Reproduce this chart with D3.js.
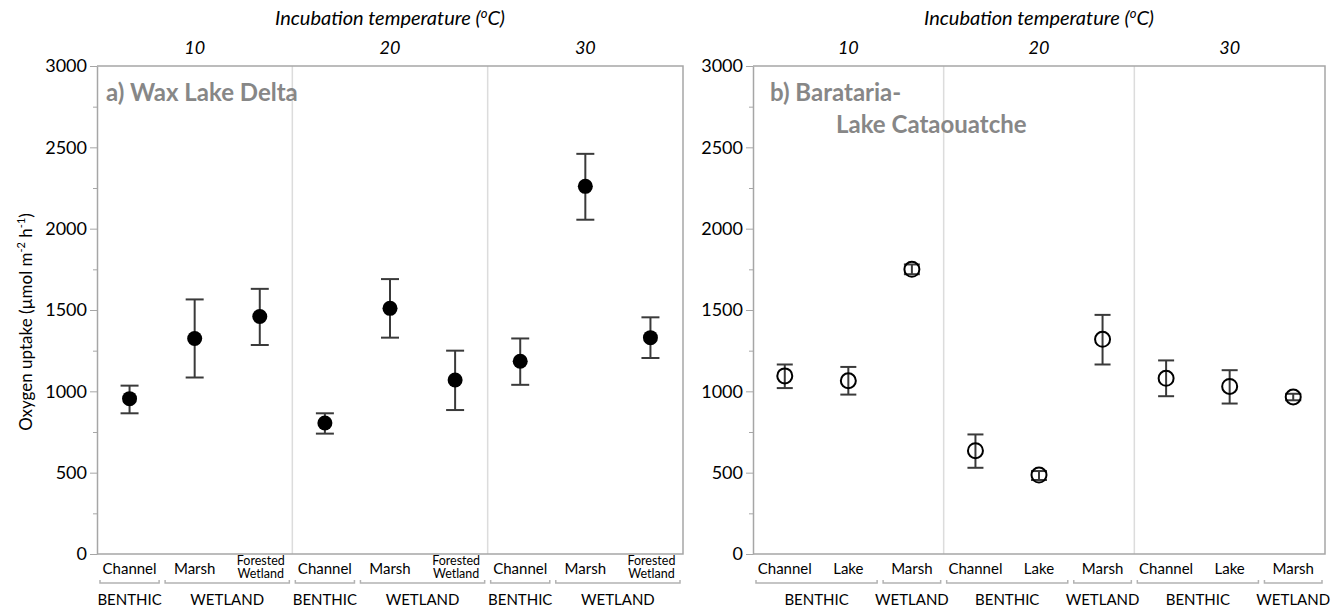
<!DOCTYPE html>
<html>
<head>
<meta charset="utf-8">
<script src="https://cdn.jsdelivr.net/npm/d3@7"></script>
<style>
  body { margin: 0; background: #fff; }
  svg { font-family: Lato, "Open Sans", sans-serif; }
  .axis path, .axis line { stroke: #a6a6a6; }
  .axis text { font-size: 18px; fill: #000; font-family: Lato, "Open Sans", sans-serif; }
</style>
</head>
<body>
<div id="chart"></div>
<script>

// incubation temperatures (top categories)
const temps = ["10", "20", "30"];

// panel a: Wax Lake Delta
const sitesA = ["Channel", "Marsh", "Forested Wetland"];
const habitatsA = [["BENTHIC", [0]], ["WETLAND", [1, 2]]];
const meanA = [[955, 1325, 1460], [805, 1510, 1070], [1185, 2260, 1330]];
const lowA = [[865, 1085, 1285], [740, 1330, 885], [1040, 2055, 1205]];
const highA = [[1035, 1565, 1630], [865, 1690, 1250], [1325, 2460, 1455]];

// panel b: Barataria-Lake Cataouatche
const sitesB = ["Channel", "Lake", "Marsh"];
const habitatsB = [["BENTHIC", [0, 1]], ["WETLAND", [2]]];
const meanB = [[1095, 1065, 1750], [635, 485, 1320], [1080, 1030, 965]];
const lowB = [[1020, 980, 1720], [530, 455, 1165], [970, 925, 945]];
const highB = [[1165, 1150, 1780], [735, 510, 1470], [1190, 1130, 985]];

const yTicks = [0, 500, 1000, 1500, 2000, 2500, 3000];

const W = 1336, H = 611;
const plotTop = 66, plotBottom = 554;

const svg = d3.select("#chart").append("svg")
    .attr("width", W).attr("height", H);

const y = d3.scaleLinear().domain([0, 3000]).range([plotBottom, plotTop]);

/* y-axis title (shared, left) */
const yl = svg.append("text")
    .attr("transform", `translate(32, ${(plotTop + plotBottom) / 2 + 12}) rotate(-90)`)
    .attr("text-anchor", "middle")
    .style("font-size", "17px");
yl.append("tspan").text("Oxygen uptake (µmol m");
yl.append("tspan").text("-2").attr("dy", -7).style("font-size", "11px");
yl.append("tspan").text(" h").attr("dy", 7);
yl.append("tspan").text("-1").attr("dy", -7).style("font-size", "11px");
yl.append("tspan").text(")").attr("dy", 7);

function drawPanel(cfg) {
    const x0 = cfg.left, x1 = cfg.right;
    const g = svg.append("g");

    const xTemp = d3.scaleBand().domain(temps).range([x0, x1]);
    const xSite = d3.scaleBand().domain(d3.range(cfg.sites.length)).range([0, xTemp.bandwidth()]);

    /* light separators between temperature groups */
    g.selectAll("line.sep").data(temps.slice(1)).join("line")
        .attr("class", "sep")
        .attr("x1", d => xTemp(d)).attr("x2", d => xTemp(d))
        .attr("y1", plotTop).attr("y2", plotBottom)
        .attr("stroke", "#dcdcdc").attr("stroke-width", 1.5);

    /* frame */
    g.append("path")
        .attr("d", `M${x0},${plotTop}H${x1}V${plotBottom}H${x0}`)
        .attr("fill", "none").attr("stroke", "#a6a6a6").attr("stroke-width", 1.5);

    /* y axis with minor ticks */
    g.append("g").attr("class", "axis")
        .attr("transform", `translate(${x0},0)`)
        .call(d3.axisLeft(y).tickValues(d3.range(250, 3000, 500)).tickSize(4).tickFormat(""))
        .call(a => a.select(".domain").remove());
    g.append("g").attr("class", "axis")
        .attr("transform", `translate(${x0},0)`)
        .call(d3.axisLeft(y).tickValues(yTicks).tickFormat(d3.format("d"))
            .tickSize(7).tickSizeOuter(0).tickPadding(3))
        .call(a => a.select(".domain").attr("stroke-width", 1.5));

    /* titles */
    g.append("text").text("Incubation temperature (")
        .attr("x", (x0 + x1) / 2).attr("y", 25)
        .attr("text-anchor", "middle")
        .style("font-size", "20px").style("font-style", "italic")
        .call(t => {
            t.append("tspan").text("o").attr("dy", -7).style("font-size", "13px");
            t.append("tspan").text("C)").attr("dy", 7);
        });
    g.selectAll("text.temp").data(temps).join("text")
        .attr("class", "temp")
        .attr("x", d => xTemp(d) + xTemp.bandwidth() / 2).attr("y", 54)
        .attr("text-anchor", "middle")
        .style("font-size", "18px").style("font-style", "italic")
        .text(d => d);

    /* panel label */
    const pl = g.append("text")
        .attr("fill", "#878787").style("font-weight", "bold").style("font-size", "24px");
    cfg.label.forEach((s, i) => {
        pl.append("tspan").text(s[0]).attr("x", x0 + s[1]).attr("y", 101 + i * 32);
    });

    temps.forEach((t, ti) => {
        const gx = xTemp(t);
        const cx = i => gx + xSite(i) + xSite.bandwidth() / 2;
        const pts = cfg.sites.map((s, i) => ({
            x: cx(i), m: cfg.mean[ti][i], lo: cfg.low[ti][i], hi: cfg.high[ti][i]
        }));
        const eb = g.append("g").attr("stroke", "#3a3a3a").attr("stroke-width", 2);
        eb.selectAll("line.v").data(pts).join("line")
            .attr("x1", d => d.x).attr("x2", d => d.x)
            .attr("y1", d => y(d.lo)).attr("y2", d => y(d.hi));
        eb.selectAll("line.lo").data(pts).join("line")
            .attr("x1", d => d.x - cfg.cap).attr("x2", d => d.x + cfg.cap)
            .attr("y1", d => y(d.lo)).attr("y2", d => y(d.lo));
        eb.selectAll("line.hi").data(pts).join("line")
            .attr("x1", d => d.x - cfg.cap).attr("x2", d => d.x + cfg.cap)
            .attr("y1", d => y(d.hi)).attr("y2", d => y(d.hi));
        g.selectAll(null).data(pts).join("circle")
            .attr("cx", d => d.x).attr("cy", d => y(d.m))
            .attr("r", 7.5)
            .attr("fill", cfg.open ? "none" : "#000")
            .attr("stroke", "#000")
            .attr("stroke-width", cfg.open ? 2 : 0);

        /* site labels */
        cfg.sites.forEach((s, i) => {
            const words = s.split(" ");
            if (words.length > 1) {
                const tl = g.append("text")
                    .attr("text-anchor", "middle").style("font-size", "12.5px");
                words.forEach((w, k) => tl.append("tspan").text(w)
                    .attr("x", cx(i) + 1).attr("y", 565 + k * 13));
            } else {
                g.append("text").text(s)
                    .attr("x", cx(i)).attr("y", 574)
                    .attr("text-anchor", "middle").style("font-size", "15px");
            }
        });

        /* habitat brackets */
        cfg.habitats.forEach(([name, idx]) => {
            const a = gx + xSite(idx[0]) + 3;
            const b = gx + xSite(idx[idx.length - 1]) + xSite.bandwidth() - 3;
            g.append("path")
                .attr("d", `M${a},580V583H${b}V580`)
                .attr("fill", "none").attr("stroke", "#b3b3b3").attr("stroke-width", 1.5);
            g.append("text").text(name)
                .attr("x", (a + b) / 2).attr("y", 605)
                .attr("text-anchor", "middle").style("font-size", "15px");
        });
    });
}

drawPanel({
    left: 97, right: 683, sites: sitesA, habitats: habitatsA,
    mean: meanA, low: lowA, high: highA, open: false, cap: 9,
    label: [["a) Wax Lake Delta", 9]]
});

drawPanel({
    left: 753, right: 1325, sites: sitesB, habitats: habitatsB,
    mean: meanB, low: lowB, high: highB, open: true, cap: 8,
    label: [["b) Barataria-", 17], ["Lake Cataouatche", 83]]
});

</script>
</body>
</html>
